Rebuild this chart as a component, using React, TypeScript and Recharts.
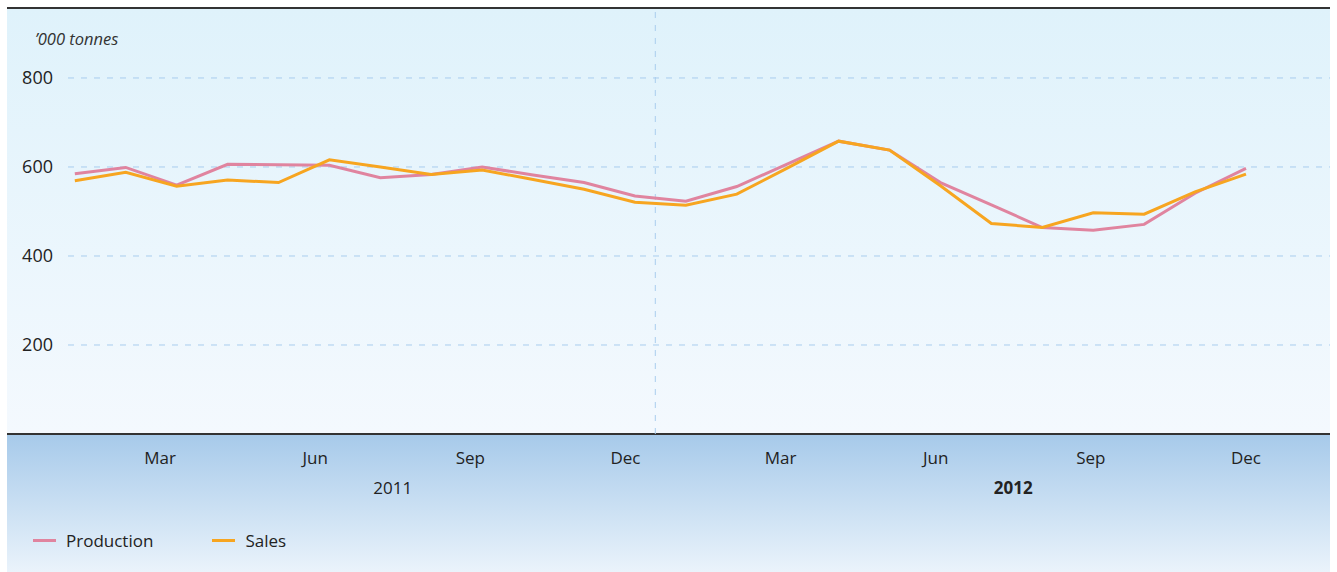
import { LineChart, Line, XAxis, YAxis, CartesianGrid, ReferenceLine } from 'recharts';

const months = ['Jan', 'Feb', 'Mar', 'Apr', 'May', 'Jun', 'Jul', 'Aug', 'Sep', 'Oct', 'Nov', 'Dec'];
const years = ['2011', '2012'];

const production = [
  585, 599, 559, 606, 605, 604, 576, 583, 600, 582, 565, 535,
  523, 556, 607, 658, 638, 565, 515, 464, 458, 471, 541, 597,
];
const sales = [
  569, 588, 557, 571, 565, 616, 600, 583, 593, 572, 550, 521,
  514, 539, 598, 658, 638, 558, 473, 464, 497, 494, 544, 584,
];

const yTicks = [200, 400, 600, 800];
const monthTicks = [2, 5, 8, 11, 14, 17, 20, 23];
const yearTicks = [6.5, 18.5];

const data = production.map((p, i) => ({
  idx: i,
  month: months[i % 12],
  production: p,
  sales: sales[i],
}));

const FONT = '"Open Sans", sans-serif';

// the labels in the original sit a little left of the points, more so on the left
const shift = (x: number) => 1246 - 1.0155 * (1246 - x);

const MonthTick = ({ x, y, payload }: any) => (
  <text x={shift(x)} y={y} dy="0.71em" textAnchor="middle" fontFamily={FONT} fontSize={17} fill="#222">
    {months[payload.value % 12]}
  </text>
);

const YearTick = ({ x, y, payload }: any) => {
  const i = payload.value < 12 ? 0 : 1;
  return (
    <text
      x={shift(x)}
      y={y}
      dy="0.71em"
      textAnchor="middle"
      fontFamily={FONT}
      fontSize={17}
      fontWeight={i === 1 ? 700 : 400}
      fill="#222"
    >
      {years[i]}
    </text>
  );
};

export default function App() {
  return (
    <div style={{ position: 'absolute', left: 0, top: 0, width: 1337, height: 572, background: '#fff', fontFamily: FONT }}>
      <div style={{ position: 'absolute', left: 7, top: 7, width: 1323, height: 2, background: '#333' }} />
      <div
        style={{
          position: 'absolute', left: 7, top: 9, width: 1323, height: 425,
          background: 'linear-gradient(#dff2fb, #f4f9fe)',
        }}
      />
      <div style={{ position: 'absolute', left: 7, top: 433, width: 1323, height: 2, background: '#333' }} />
      <div
        style={{
          position: 'absolute', left: 7, top: 435, width: 1323, height: 137,
          background: 'linear-gradient(#a7caea, #eaf3fb)',
        }}
      />
      <div style={{ position: 'absolute', left: 35, top: 27, fontSize: 16.5, fontStyle: 'italic', color: '#333' }}>
        ’000 tonnes
      </div>
      <div style={{ position: 'absolute', left: 0, top: 0 }}>
        <LineChart
          width={1337}
          height={572}
          data={data}
          margin={{ top: 9, right: 7, left: 8, bottom: 0 }}
        >
          <CartesianGrid
            vertical={false}
            stroke="#a9cdee"
            strokeDasharray="6 7"
            horizontalValues={yTicks}
          />
          <XAxis
            dataKey="idx"
            type="number"
            domain={[-0.134, 24.65]}
            ticks={monthTicks}
            tick={<MonthTick />}
            axisLine={false}
            tickLine={false}
            tickSize={0}
            tickMargin={18}
            height={30}
            interval={0}
          />
          <XAxis
            xAxisId="year"
            dataKey="idx"
            type="number"
            domain={[-0.134, 24.65]}
            ticks={yearTicks}
            tick={<YearTick />}
            axisLine={false}
            tickLine={false}
            tickSize={0}
            tickMargin={18}
            height={108}
            interval={0}
          />
          <YAxis
            domain={[0, 955]}
            ticks={yTicks}
            axisLine={false}
            tickLine={false}
            tickSize={0}
            tickMargin={15}
            width={60}
            tick={{ fontFamily: FONT, fontSize: 18, fill: '#222' }}
          />
          <ReferenceLine x={11.4} stroke="#a9cdee" strokeDasharray="6 7" segment={[{ x: 11.4, y: 955 }, { x: 11.4, y: 10 }]} />
          <Line
            dataKey="production"
            stroke="#e0849f"
            strokeWidth={3}
            dot={false}
            isAnimationActive={false}
          />
          <Line
            dataKey="sales"
            stroke="#f7a520"
            strokeWidth={3}
            dot={false}
            isAnimationActive={false}
          />
        </LineChart>
      </div>
      <div style={{ position: 'absolute', left: 33, top: 529, display: 'flex', alignItems: 'center', fontSize: 17, color: '#222' }}>
        <span style={{ display: 'inline-block', width: 23, height: 3, background: '#e0849f', marginRight: 10 }} />
        <span>Production</span>
        <span style={{ display: 'inline-block', width: 23, height: 3, background: '#f7a520', marginLeft: 59, marginRight: 10 }} />
        <span>Sales</span>
      </div>
    </div>
  );
}
